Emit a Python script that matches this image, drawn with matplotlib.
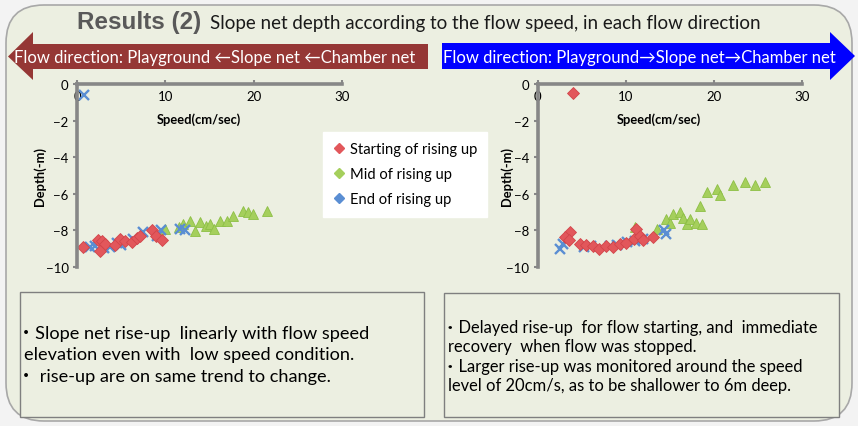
import matplotlib.pyplot as plt
from matplotlib.patches import FancyBboxPatch, Polygon, Rectangle
from matplotlib.lines import Line2D

plt.rcParams['font.family'] = ['Lato', 'Noto Sans CJK JP', 'DejaVu Sans']

# data: speed (cm/sec) and depth (-m)
series_names = ['Starting of rising up', 'Mid of rising up', 'End of rising up']
series_colors = ['#E2575B', '#A5CF5C', '#5A8ED3']

# left: Playground <- Slope net <- Chamber net
left_start_speed = [0.7, 2.4, 2.8, 3.2, 2.6, 4.3, 4.9, 5.4, 6.2, 6.8, 7.1, 8.5, 8.9, 9.6]
left_start_depth = [-8.9, -8.5, -8.6, -8.75, -9.1, -8.8, -8.45, -8.6, -8.65, -8.4, -8.3, -8.0, -8.3, -8.5]
left_mid_speed = [10.0, 11.5, 12.0, 12.8, 13.4, 13.9, 14.6, 15.1, 15.5, 16.2, 17.0, 17.7, 18.8, 19.4, 19.9, 21.5]
left_mid_depth = [-7.9, -7.8, -7.65, -7.47, -8.05, -7.56, -7.75, -7.65, -7.9, -7.47, -7.5, -7.2, -6.92, -7.0, -7.1, -6.92]
left_end_speed = [0.8, 1.5, 2.0, 3.0, 3.7, 4.5, 5.0, 6.3, 7.5, 9.0, 9.5, 11.7, 12.2]
left_end_depth = [-0.6, -8.9, -8.85, -8.95, -8.9, -8.7, -8.8, -8.45, -8.1, -8.3, -8.0, -7.9, -8.0]

# right: Playground -> Slope net -> Chamber net
right_start_speed = [4.0, 3.7, 3.1, 3.5, 4.8, 5.5, 6.3, 7.0, 7.8, 8.5, 9.3, 10.0, 10.9, 11.2, 11.6, 12.0, 13.1]
right_start_depth = [-0.5, -8.1, -8.37, -8.5, -8.74, -8.8, -8.83, -9.0, -8.83, -8.9, -8.74, -8.7, -8.46, -7.9, -8.28, -8.5, -8.37]
right_mid_speed = [11.0, 13.5, 14.6, 15.0, 15.4, 16.2, 16.5, 16.9, 17.3, 18.0, 18.6, 18.4, 19.2, 20.3, 20.7, 22.2, 23.5, 24.7, 25.8]
right_mid_depth = [-7.82, -7.92, -7.37, -7.6, -7.09, -7.0, -7.3, -7.64, -7.37, -7.6, -7.64, -6.64, -5.9, -5.72, -6.09, -5.54, -5.35, -5.54, -5.35]
right_end_speed = [2.5, 2.9, 5.2, 6.0, 8.2, 9.0, 10.1, 11.0, 12.0, 14.3, 14.6]
right_end_depth = [-9.0, -8.74, -8.92, -8.85, -8.83, -8.8, -8.65, -8.6, -8.46, -8.0, -8.2]

x_ticks = [0, 10, 20, 30]
y_ticks = [0, -2, -4, -6, -8, -10]

left_notes = ['・Slope net rise-up  linearly with flow speed',
              'elevation even with  low speed condition.',
              '・ rise-up are on same trend to change.']
right_notes = ['・Delayed rise-up  for flow starting, and  immediate',
               'recovery  when flow was stopped.',
               '・Larger rise-up was monitored around the speed',
               'level of 20cm/s, as to be shallower to 6m deep.']

W, H = 858, 427
fig = plt.figure(figsize=(W / 100, H / 100), dpi=100)
fig.patch.set_facecolor('#F3F3F3')

# slide background, drawn in pixel coords
bg = fig.add_axes([0, 0, 1, 1])
bg.set_xlim(0, W)
bg.set_ylim(H, 0)
bg.axis('off')
bg.add_patch(FancyBboxPatch((6, 6), 846, 416, boxstyle='round,pad=0,rounding_size=38',
                            facecolor='#ECEFE1', edgecolor='#A8A8A8', lw=1.2))

# title
bg.text(77, 23, 'Results (2)', fontsize=17.5, fontweight='bold', color='#595959',
        family=['Liberation Sans'], va='center')
bg.text(210, 24, 'Slope net depth according to the flow speed, in each flow direction',
        fontsize=13.5, color='#1a1a1a', va='center')

# flow direction arrows
bg.add_patch(Polygon([(8, 57.5), (33, 33), (33, 45), (428, 45), (428, 70), (33, 70), (33, 81)],
                     closed=True, facecolor='#953735', edgecolor='none'))
bg.text(14, 58, 'Flow direction: Playground ←Slope net ←Chamber net', color='white',
        fontsize=12, va='center')
bg.add_patch(Polygon([(442, 44), (830, 44), (830, 33), (855, 57), (830, 81), (830, 70), (442, 70)],
                     closed=True, facecolor='#0000FF', edgecolor='none'))
bg.text(443, 58, 'Flow direction: Playground→Slope net→Chamber net', color='white',
        fontsize=12, va='center')

# note boxes
bg.add_patch(Rectangle((20, 293), 404, 125, facecolor='#ECEFE1', edgecolor='#7F7F7F', lw=1))
bg.add_patch(Rectangle((444, 294), 395, 124, facecolor='#ECEFE1', edgecolor='#7F7F7F', lw=1))
for i, line in enumerate(left_notes):
    x0 = 17 if line.startswith('・') else 24
    bg.text(x0, 334 + i * 21.5, line, fontsize=13.1, color='black', va='center')
for i, line in enumerate(right_notes):
    x0 = 442 if line.startswith('・') else 448
    bg.text(x0, 328 + i * 19.5, line, fontsize=11.9, color='black', va='center')


def draw_panel(rect, start, mid, end, ylab_x):
    ax = fig.add_axes(rect)
    ax.patch.set_alpha(0)
    ax.plot(mid[0], mid[1], '^', color=series_colors[1], ms=7, mec='#8DBF45', mew=0.6, ls='none')
    ax.plot(end[0], end[1], 'x', color=series_colors[2], ms=6.5, mew=1.7, ls='none')
    ax.plot(start[0], start[1], 'D', color=series_colors[0], ms=6, mec='#D2454A', mew=0.6, ls='none')
    ax.set_xlim(0, 30)
    ax.set_ylim(-10, 0)
    ax.set_xticks(x_ticks)
    ax.set_yticks(y_ticks)
    for side in ['top', 'right']:
        ax.spines[side].set_visible(False)
    ax.spines['bottom'].set_position(('data', 0))
    for side in ['bottom', 'left']:
        ax.spines[side].set_color('#878787')
        ax.spines[side].set_linewidth(2.6)
    ax.tick_params(axis='x', direction='in', length=3, width=1.5, color='#878787', labelsize=9.5, pad=4)
    ax.tick_params(axis='y', direction='out', length=3, width=1.5, color='#878787', labelsize=9.5, pad=3)
    ax.text(0.46, 0.81, 'Speed(cm/sec)', transform=ax.transAxes, ha='center', va='center',
            fontsize=9.3, fontweight='bold')
    ax.text(ylab_x, 0.5, 'Depth(-m)', transform=ax.transAxes, ha='center', va='center',
            rotation=90, fontsize=9.3, fontweight='bold')
    return ax


ax_left = draw_panel([77 / W, 1 - 268 / H, 265 / W, 183 / H],
                     (left_start_speed, left_start_depth), (left_mid_speed, left_mid_depth),
                     (left_end_speed, left_end_depth), -0.14)
ax_right = draw_panel([537.7 / W, 1 - 268 / H, 264.3 / W, 183 / H],
                      (right_start_speed, right_start_depth), (right_mid_speed, right_mid_depth),
                      (right_end_speed, right_end_depth), -0.116)

handles = [Line2D([], [], marker='D', ls='none', color=c, ms=5.5) for c in series_colors]
leg = fig.legend(handles, series_names, loc='upper left', bbox_to_anchor=(323 / W, 1 - 133 / H),
                 frameon=True, fancybox=False, facecolor='white', edgecolor='white', framealpha=1,
                 fontsize=10.6, handlelength=0.8, handletextpad=0.3, labelspacing=0.75,
                 borderpad=0.7, borderaxespad=0)

fig.savefig('out.png', dpi=100)
